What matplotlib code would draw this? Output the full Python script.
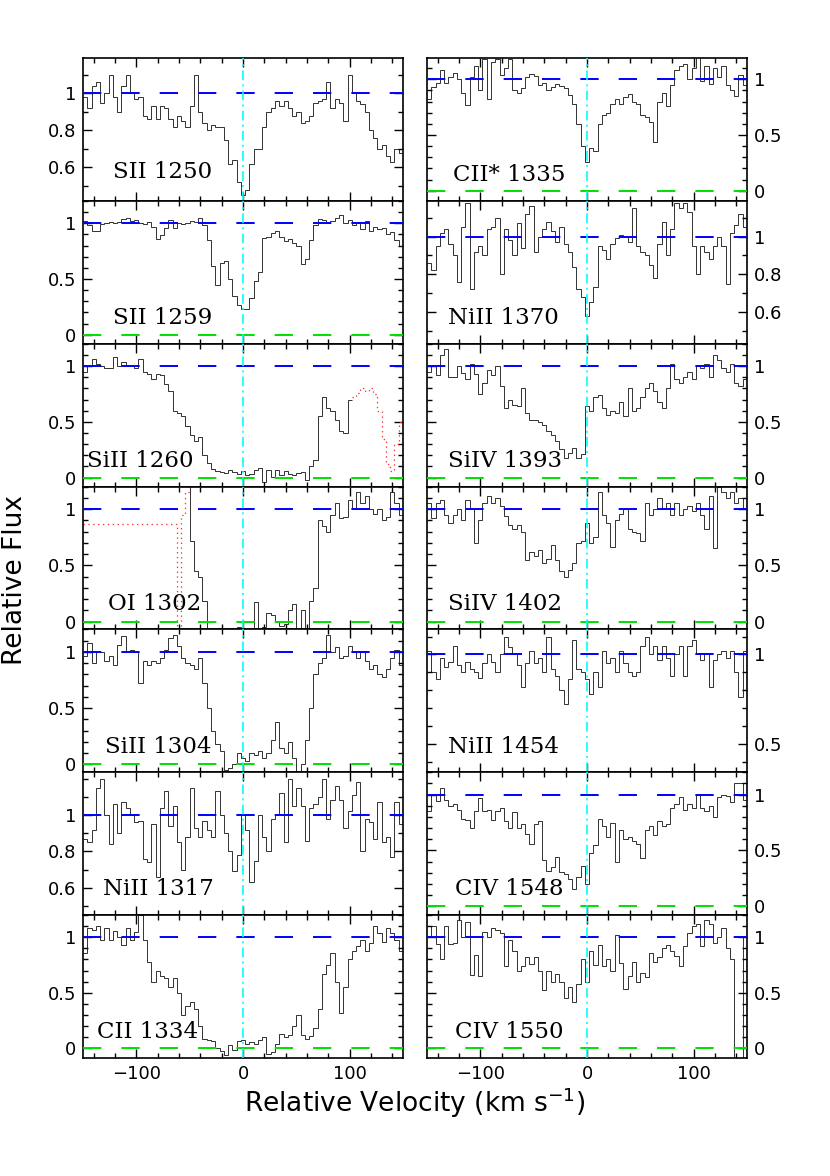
import numpy as np
import matplotlib
matplotlib.use('Agg')
import matplotlib.pyplot as plt
from matplotlib.ticker import MultipleLocator, FixedLocator, FuncFormatter

plt.rcParams['lines.scale_dashes'] = False
plt.rcParams['font.family'] = ['DejaVu Sans']

# velocity bin edges (km/s), 4 km/s bins
VEL_EDGES = np.arange(-150, 151, 4)

SII_1250 = [0.98,0.92,1.04,1.06,0.95,1.0,1.1,0.98,0.9,1.04,
            1.1,1.0,0.97,0.98,0.88,0.86,0.93,0.86,0.93,0.92,
            0.86,0.82,0.88,0.85,0.82,0.93,1.1,0.9,0.84,0.8,
            0.83,0.82,0.82,0.75,0.62,0.64,0.52,0.45,0.48,0.62,
            0.7,0.7,0.82,0.9,0.92,0.96,0.93,0.96,0.92,0.88,
            0.9,0.84,0.85,0.88,0.95,0.96,0.97,1.06,0.92,0.97,
            0.95,0.85,1.1,1.0,0.96,0.94,0.9,0.8,0.76,0.7,
            0.72,0.66,0.63,0.7,0.68]
SII_1259 = [1.02,0.98,0.93,0.93,0.99,1.0,1.01,1.0,1.01,1.04,
            1.05,1.02,1.03,1.0,0.99,1.01,0.97,0.86,0.89,0.96,
            1.03,0.96,1.0,0.99,1.0,1.02,1.01,1.05,0.98,0.85,
            0.62,0.45,0.64,0.66,0.5,0.35,0.27,0.23,0.23,0.33,
            0.48,0.56,0.87,0.88,0.91,0.93,0.88,0.84,0.86,0.82,
            0.80,0.63,0.68,0.85,0.98,1.04,1.03,1.0,1.02,1.05,
            1.07,1.0,1.03,0.98,1.0,0.95,1.02,0.93,0.97,0.95,
            0.96,0.9,0.92,0.85,0.8]
SiII_1260 = [0.95,1.0,1.06,1.02,1.0,0.98,0.98,1.08,1.0,1.04,
             1.0,1.0,0.98,1.06,0.95,0.93,0.88,0.93,0.92,0.84,
             0.78,0.6,0.58,0.55,0.46,0.38,0.33,0.36,0.2,0.13,
             0.08,0.06,0.05,0.04,0.07,0.05,0.03,0.06,0.02,0.03,
             0.07,0.09,-0.04,0.07,0.01,0.07,0.02,0.06,0.03,0.02,
             0.04,0.05,-0.02,0.1,0.16,0.55,0.72,0.62,0.6,0.52,
             0.42,0.4,0.7]
SiII_1260_blend = [0.72,0.76,0.8,0.78,0.8,0.75,0.6,0.35,0.12,0.06,0.3,0.5]
OI_1302 = [1.3,0.72,0.45,0.4,0.18,-0.15,-0.2,-0.15,-0.2,-0.15,
           -0.2,-0.15,-0.05,-0.1,-0.15,-0.2,0.17,-0.1,-0.05,0.08,
           0.06,0.0,-0.04,-0.02,0.1,0.16,-0.1,0.1,-0.1,0.18,
           0.3,0.9,0.85,0.8,0.95,1.05,0.92,0.93,1.08,1.0,
           1.15,1.05,1.12,1.0,0.96,1.0,0.9,0.93,1.15,1.05,
           0.95]
OI_1302_blend = [0.87,0.87,0.87,0.87,0.87,0.87,0.87,0.87,0.87,0.87,
                 0.87,0.87,0.87,0.87,0.87,0.87,0.87,0.87,0.87,0.87,
                 0.87,0.87,-0.1,0.95,1.15]
SiII_1304 = [0.96,1.08,0.9,1.0,1.0,0.92,0.96,0.88,1.06,1.14,
             1.0,1.02,1.0,0.72,0.92,0.88,0.92,0.9,0.95,1.02,
             1.12,1.15,1.05,0.95,0.9,0.88,0.85,0.95,0.72,0.5,
             0.3,0.18,0.12,-0.05,-0.03,0.0,0.1,0.06,0.03,0.1,
             0.08,0.12,0.06,0.1,0.22,0.38,0.15,0.1,0.2,0.06,
             -0.1,0.0,0.22,0.5,0.8,0.9,0.95,1.15,1.0,1.04,
             0.95,0.96,1.05,1.0,0.95,1.0,0.92,0.85,0.88,0.8,
             0.78,0.85,0.95,1.02,0.88]
NiII_1317 = [0.87,0.85,0.92,1.15,1.2,1.0,0.84,1.06,0.9,1.07,
             1.04,1.0,0.96,0.97,0.76,0.74,0.95,0.66,1.04,1.13,
             0.94,1.05,0.85,0.7,0.88,1.15,0.93,0.88,0.97,0.92,
             0.88,1.13,1.0,0.9,0.8,0.69,0.78,1.0,0.92,0.63,
             0.75,1.0,0.88,0.8,0.98,1.0,1.12,0.85,1.2,1.05,
             1.15,1.05,0.86,1.04,1.06,1.1,1.2,0.98,1.08,1.16,
             1.08,0.93,1.02,1.11,1.18,0.8,0.98,0.96,0.87,1.07,
             0.85,0.88,0.77,1.07,0.95]
CII_1334 = [0.86,1.08,1.07,1.1,0.98,1.08,0.98,1.06,1.0,0.93,
            1.08,0.98,1.05,1.2,0.98,0.78,0.6,0.7,0.65,0.63,
            0.55,0.63,0.5,0.3,0.38,0.42,0.35,0.2,0.08,0.07,
            0.06,0.0,-0.03,-0.06,0.03,-0.02,0.06,0.07,0.04,0.05,
            0.04,0.07,0.1,-0.05,-0.04,0.04,0.13,0.1,0.12,0.2,
            0.3,0.12,0.08,0.11,0.18,0.35,0.67,0.75,0.86,0.6,
            0.32,0.55,0.8,0.88,0.92,0.98,0.88,0.95,1.1,1.04,
            0.96,1.08,1.04,0.98,0.88]
CIIs_1335 = [0.82,0.93,0.97,1.08,0.97,1.02,1.06,1.0,0.88,0.77,
             1.02,1.12,0.9,1.18,0.82,1.15,1.18,1.04,1.1,1.18,
             0.9,0.88,0.92,1.02,1.05,1.03,0.95,0.97,0.9,0.93,
             0.96,0.94,0.92,0.86,0.78,0.6,0.4,0.26,0.38,0.36,
             0.6,0.68,0.7,0.78,0.82,0.78,0.84,0.87,0.8,0.78,
             0.68,0.66,0.62,0.44,0.8,0.88,0.76,0.95,1.08,1.12,
             1.14,1.0,1.1,1.2,0.98,1.12,0.96,1.1,1.02,1.12,
             0.95,0.9,0.85,1.04,0.95]
NiII_1370 = [0.86,0.82,0.95,1.02,1.04,0.96,0.9,0.76,1.05,1.18,
             0.72,0.92,0.95,0.9,1.04,1.05,1.1,0.8,1.04,0.98,
             0.9,1.07,0.94,1.12,1.16,0.92,1.0,1.04,1.08,1.03,
             0.97,1.05,0.96,0.92,0.84,0.72,0.68,0.58,0.65,0.73,
             0.95,0.93,0.88,0.96,0.99,1.01,1.0,0.97,1.15,0.95,
             0.92,0.9,0.85,0.78,0.96,1.08,0.9,1.04,1.18,1.15,
             1.18,1.13,0.95,0.8,0.95,0.92,0.88,0.95,1.0,0.95,
             0.75,1.02,1.06,1.12,1.05]
SiIV_1393 = [0.95,1.0,0.92,1.1,1.15,0.9,0.9,1.0,0.94,0.88,
             1.02,0.93,0.75,0.85,0.96,0.92,1.0,0.82,0.62,0.7,
             0.65,0.64,0.8,0.58,0.52,0.52,0.5,0.47,0.42,0.38,
             0.33,0.26,0.18,0.22,0.27,0.18,0.21,0.64,0.6,0.72,
             0.74,0.62,0.56,0.6,0.58,0.68,0.55,0.8,0.6,0.62,
             0.72,0.8,0.85,0.78,0.68,0.62,0.8,1.02,0.88,0.85,
             0.9,0.95,0.88,1.0,0.98,1.02,0.9,1.1,1.05,0.98,
             0.95,1.02,0.85,0.82,0.88]
SiIV_1402 = [1.05,0.92,1.05,1.08,0.95,0.88,0.95,1.0,0.9,1.08,
             1.0,0.7,0.9,1.05,1.12,1.05,1.1,1.03,0.94,0.86,
             0.82,0.86,0.8,0.55,0.62,0.58,0.64,0.52,0.56,0.68,
             0.55,0.45,0.4,0.46,0.52,0.7,0.72,0.88,0.7,0.75,
             1.15,0.95,0.88,0.66,0.9,0.96,1.0,0.82,0.8,0.79,
             0.72,1.05,0.95,1.0,1.1,1.0,1.05,0.95,1.05,0.95,
             1.0,1.03,0.98,1.05,0.95,0.82,1.12,0.65,1.2,1.15,
             1.1,1.15,1.05,1.1,1.0]
NiII_1454 = [1.02,0.9,0.86,0.98,0.93,0.96,1.05,0.94,0.9,0.96,
             0.92,0.9,0.87,0.95,1.0,0.96,0.9,1.0,1.1,1.04,
             1.0,0.94,0.82,0.95,1.02,0.95,0.98,0.9,1.1,0.92,
             0.88,0.8,0.72,0.86,1.08,0.92,0.9,0.86,0.78,0.9,
             0.82,1.02,0.95,0.98,0.9,1.02,0.95,0.9,0.88,0.9,
             1.05,1.1,1.0,1.05,0.97,1.05,0.98,0.88,1.0,1.05,
             0.88,1.05,1.08,1.0,0.97,1.0,0.82,0.97,1.0,1.02,
             0.98,1.02,0.9,0.76,1.02]
CIV_1548 = [0.85,1.0,0.94,1.06,0.95,0.9,0.92,0.86,0.78,0.77,
            0.7,0.85,0.97,0.85,0.86,0.77,0.85,0.88,0.76,0.7,
            0.84,0.7,0.74,0.65,0.56,0.74,0.76,0.41,0.32,0.35,
            0.44,0.31,0.29,0.24,0.15,0.26,0.36,0.2,0.48,0.55,
            0.78,0.72,0.62,0.75,0.4,0.68,0.6,0.62,0.58,0.56,
            0.43,0.68,0.72,0.64,0.76,0.72,0.74,0.88,0.92,0.98,
            0.86,0.92,0.88,1.0,0.88,0.85,0.9,0.8,0.98,1.0,
            0.99,0.93,1.1,1.1,0.95]
CIV_1550 = [1.0,1.1,0.94,0.8,1.1,0.94,0.95,1.16,1.0,1.14,
            0.66,0.84,0.65,1.05,1.0,1.08,1.07,1.04,0.74,0.98,
            0.88,0.7,0.74,0.82,0.76,0.82,0.7,0.52,0.7,0.6,
            0.67,0.6,0.45,0.55,0.42,0.58,0.8,0.6,0.88,0.75,
            0.93,0.74,0.8,0.7,1.02,0.77,0.53,0.65,0.78,0.6,
            0.68,0.64,0.86,0.78,0.82,0.9,0.93,0.88,0.83,0.74,
            0.92,1.04,1.1,1.12,0.92,1.16,1.12,0.95,1.0,1.08,
            0.9,0.8,-0.2,-0.2,1.0]

TICKS_A = [0, 0.5, 1]
TICKS_B = [0.6, 0.8, 1]
TICKS_C = [0.5, 1]

# (label, flux, first bin, blend flux, blend first bin, ylim, labelled ticks, label x, label y)
LEFT = [
    ('SII 1250', SII_1250, 0, None, 0, (0.42, 1.19), TICKS_B, 0.094, 0.20),
    ('SII 1259', SII_1259, 0, None, 0, (-0.08, 1.2), TICKS_A, 0.094, 0.18),
    ('SiII 1260', SiII_1260, 0, SiII_1260_blend, 63, (-0.08, 1.2), TICKS_A, 0.012, 0.18),
    ('OI 1302', OI_1302, 24, OI_1302_blend, 0, (-0.07, 1.2), TICKS_A, 0.078, 0.18),
    ('SiII 1304', SiII_1304, 0, None, 0, (-0.07, 1.2), TICKS_A, 0.069, 0.18),
    ('NiII 1317', NiII_1317, 0, None, 0, (0.45, 1.235), TICKS_B, 0.0625, 0.18),
    ('CII 1334', CII_1334, 0, None, 0, (-0.09, 1.2), TICKS_A, 0.044, 0.18),
]
RIGHT = [
    ('CII* 1335', CIIs_1335, 0, None, 0, (-0.09, 1.19), TICKS_A, 0.081, 0.18),
    ('NiII 1370', NiII_1370, 0, None, 0, (0.43, 1.19), TICKS_B, 0.066, 0.18),
    ('SiIV 1393', SiIV_1393, 0, None, 0, (-0.08, 1.2), TICKS_A, 0.066, 0.18),
    ('SiIV 1402', SiIV_1402, 0, None, 0, (-0.07, 1.2), TICKS_A, 0.066, 0.18),
    ('NiII 1454', NiII_1454, 0, None, 0, (0.34, 1.14), TICKS_C, 0.066, 0.18),
    ('CIV 1548', CIV_1548, 0, None, 0, (-0.08, 1.2), TICKS_A, 0.0875, 0.18),
    ('CIV 1550', CIV_1550, 0, None, 0, (-0.09, 1.2), TICKS_A, 0.0875, 0.18),
]

fig = plt.figure(figsize=(8.3, 11.76), dpi=100)
top = 1 - 58 / 1176
ph = (1000 / 7) / 1176
pw = 320 / 830
xl = 83 / 830
xr = 427 / 830

fmt = FuncFormatter(lambda v, p: ('%g' % round(v, 3)).replace('-', '\u2212'))


def draw(ax, spec, right_col, bottom_row):
    label, flux, i0, blend, j0, ylim, yt, lx, ly = spec
    ax.set_xlim(-150, 150)
    ax.set_ylim(*ylim)
    e = VEL_EDGES[i0:i0 + len(flux) + 1]
    ax.stairs(flux, e, color='#111111', lw=0.6, baseline=None, zorder=2)
    if blend is not None:
        eb = VEL_EDGES[j0:j0 + len(blend) + 1]
        ax.stairs(blend, eb, color='#ff3030', lw=0.9, baseline=None,
                  linestyle=(0, (1, 2.5)), zorder=2)
    ax.axhline(1, color='#0000ff', lw=1.4, dashes=(13.2, 14.4), zorder=3)
    ax.axhline(0, color='#00e000', lw=1.4, dashes=(13.2, 14.4), zorder=3)
    ax.axvline(0, color='#00ffff', lw=1.2, dashes=(7, 3, 1.5, 3), zorder=3)
    ax.xaxis.set_major_locator(MultipleLocator(100))
    ax.xaxis.set_minor_locator(MultipleLocator(20))
    ax.yaxis.set_major_locator(FixedLocator(yt))
    ax.yaxis.set_minor_locator(MultipleLocator(0.1))
    ax.yaxis.set_major_formatter(fmt)
    ax.tick_params(which='both', direction='in', top=True, bottom=True,
                   left=True, right=True, width=1.0, labelsize=13, pad=5)
    ax.tick_params(which='major', length=6.5)
    ax.tick_params(which='minor', length=3.5)
    ax.tick_params(axis='x', labelbottom=bottom_row)
    ax.tick_params(axis='y', labelleft=not right_col, labelright=right_col)
    for s in ax.spines.values():
        s.set_linewidth(1.2)
    ax.text(lx, ly, label, transform=ax.transAxes, ha='left', va='center',
            fontsize=16.5, family='DejaVu Serif')


for k in range(7):
    y0 = top - ph * (k + 1)
    axL = fig.add_axes([xl, y0, pw, ph])
    draw(axL, LEFT[k], False, k == 6)
    axR = fig.add_axes([xr, y0, pw, ph])
    draw(axR, RIGHT[k], True, k == 6)

fig.text(0.018, 0.507, 'Relative Flux', rotation=90, ha='center', va='center',
         fontsize=19)
fig.text(0.5, 0.062, 'Relative Velocity (km s$^{-1}$)', ha='center',
         va='center', fontsize=19)

fig.savefig('out.png', dpi=100)
